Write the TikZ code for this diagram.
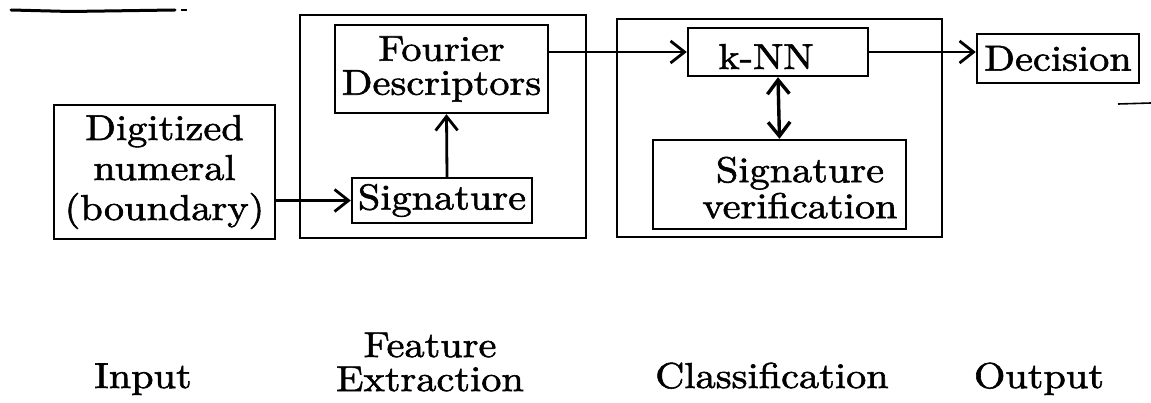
\documentclass[tikz,border=0pt]{standalone}
\usepackage{fontspec}
\setmainfont{lmroman10-regular}[Extension=.otf, FakeStretch=1.12, FakeBold=1.6]
\usetikzlibrary{arrows.meta}
\begin{document}
\begin{tikzpicture}[x=1pt, y=-1pt,
  txt/.style={font=\fontsize{36pt}{40pt}\selectfont, inner sep=0pt, align=center},
  box/.style={draw, line width=2.4pt, inner sep=0pt, txt},
  frame/.style={draw, line width=2.4pt, inner sep=0pt},
  flow/.style={line width=2.8pt, -{Straight Barb[length=14pt, width=22pt, line width=2.8pt]}},
  both/.style={line width=3.4pt, {Straight Barb[length=14pt, width=22pt, line width=3.4pt]}-{Straight Barb[length=14pt, width=22pt, line width=3.4pt]}}
]
\useasboundingbox (0,0) rectangle (1151,403);

% stage frames
\node[frame, minimum width=286pt, minimum height=223pt] (featbox) at (443,126.5) {};
\node[frame, minimum width=325pt, minimum height=218pt] (classbox) at (779.5,128) {};

% blocks
\node[box, minimum width=221pt, minimum height=134pt] (in) at (164.5,172) {Digitized\\numeral\\(boundary)};
\node[box, minimum width=213pt, minimum height=88pt, font=\fontsize{36pt}{34pt}\selectfont] (four) at (441.5,69) {Fourier\\Descriptors};
\node[box, minimum width=180pt, minimum height=45pt] (sig) at (442,200.5) {Signature};
\node[frame, minimum width=180pt, minimum height=48pt] (knn) at (778,52) {};
\node[txt] (knntext) at (766,56.5) {k-NN};
\node[frame, minimum width=253pt, minimum height=89pt] (ver) at (779.5,184.5) {};
\node[txt, font=\fontsize{36pt}{36pt}\selectfont] (vertext) at (800,187.7) {Signature\\verification};
\node[box, minimum width=162pt, minimum height=49pt] (dec) at (1058,58.5) {Decision};

% connectors
\draw[flow] (in.east |- sig.west) -- (sig.west);
\draw[flow] ([xshift=5pt]sig.north) -- ([xshift=5pt]four.south);
\draw[flow] (four.east |- knn.west) -- (knn.west);
\draw[both] (knn.south) -- (ver.north);
\draw[flow] (knn.east) -- (dec.west |- knn.east);

% stage captions
\node[txt, anchor=base] (inputlabel) at (143,388) {Input};
\node[txt, font=\fontsize{36pt}{34pt}\selectfont] (featlabel) at (430,362) {Feature\\Extraction};
\node[txt, anchor=base] (classlabel) at (772,388) {Classification};
\node[txt, anchor=base] (outlabel) at (1039,388) {Output};

% stray rules
\draw[line width=3pt, line cap=round] (11,10) -- (70,11.5) -- (175,10);
\draw[line width=2pt] (181,10) -- (187,10);
\draw[line width=1.6pt] (1118,104) -- (1151,103);
\end{tikzpicture}
\end{document}
